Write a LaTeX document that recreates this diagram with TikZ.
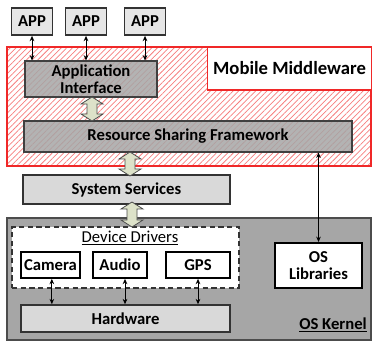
\documentclass[tikz,border=0pt]{standalone}
\usepackage{fontspec}
\setmainfont{Carlito}
\usepackage{tikz}
\usetikzlibrary{arrows.meta, positioning, calc, patterns.meta}

\definecolor{boxgray}{HTML}{A6A6A6}
\definecolor{lightbox}{HTML}{D9D9D9}
\definecolor{appgray}{HTML}{E6E6E6}
\definecolor{arrfill}{HTML}{DDE2C9}
\definecolor{mwred}{HTML}{F02828}

\begin{document}
\begin{tikzpicture}[
  x=0.75pt, y=-0.75pt,
  every node/.style={font=\bfseries\fontsize{12.5}{13}\selectfont, inner sep=0pt, align=center},
  box/.style={rectangle, draw=black!80, line width=0.8pt},
  appbox/.style={box, fill=appgray, line width=1.3pt, minimum width=30.75pt, minimum height=20.25pt},
  graybox/.style={box, fill=boxgray, fill opacity=0.85, text opacity=1, draw=black!75, line width=0.8pt},
  lightbox/.style={box, fill=lightbox, line width=1.2pt},
  whitebox/.style={box, fill=white, draw=black, line width=1.3pt},
  hatch/.style={pattern={Lines[angle=45, distance=3pt, line width=0.55pt]}, pattern color=mwred!60},
  bigarr/.style={fill=arrfill, draw=black!70, line width=0.6pt, line join=miter},
  arr/.style={{Stealth[length=4pt,width=3.5pt]}-{Stealth[length=4pt,width=3.5pt]}, line width=0.7pt},
]
  \useasboundingbox (0,0) rectangle (373,341);

  % middleware layer
  \node[hatch, draw=mwred, line width=1.2pt, minimum width=273pt, minimum height=89.25pt] (mw) at (189,106.5) {};
  \node[fill=white, draw=mwred, line width=1.2pt, minimum width=123pt, minimum height=32.25pt,
        font=\bfseries\fontsize{14}{15}\selectfont] (mwlabel) at (289.5,68.5) {Mobile Middleware};

  % apps
  \node[appbox] (app1) at (32,21.5)  {APP};
  \node[appbox] (app2) at (86,21.5)  {APP};
  \node[appbox] (app3) at (145,21.5) {APP};

  \node[graybox, minimum width=99pt, minimum height=27pt] (ai) at (91,79) {Application\\Interface};
  \node[graybox, minimum width=246pt, minimum height=23.25pt] (rsf) at (188,136.5) {Resource Sharing Framework};

  % system services
  \node[lightbox, minimum width=155.25pt, minimum height=21.75pt] (ss) at (126.5,189.5) {System Services};

  % kernel
  \node[box, fill=boxgray, draw=black!70, minimum width=273pt, minimum height=91.5pt] (kernel) at (189,279) {};
  \node[fill=white, draw=black!80, dashed, dash pattern=on 4pt off 2.5pt, line width=1.2pt,
        minimum width=170.25pt, minimum height=45.75pt] (dd) at (125.5,257.5) {};
  \node[font=\fontsize{12.5}{13}\selectfont] (ddlabel) at (130,238) {\underline{Device Drivers}};
  \node[whitebox, minimum width=44.25pt, minimum height=19.5pt] (camera) at (50.5,265) {Camera};
  \node[whitebox, minimum width=40.5pt, minimum height=19.5pt] (audio) at (120,265) {Audio};
  \node[whitebox, minimum width=48pt, minimum height=19.5pt] (gps) at (198,265) {GPS};
  \node[lightbox, minimum width=156.75pt, minimum height=20.25pt] (hw) at (125.5,318.5) {Hardware};
  \node[whitebox, line width=1.6pt, minimum width=65.25pt, minimum height=33.75pt] (oslib) at (318.5,265.5) {OS\\Libraries};
  \node (oslabel) at (333,325) {\underline{OS Kernel}};

  % Arrows
  \foreach \a in {app1,app2,app3}
    \draw[arr] (\a.south) -- (\a.south |- ai.north);
  \draw[arr] ([xshift=1pt]camera.south) -- ([xshift=1pt]camera.south |- hw.north);
  \draw[arr] ([xshift=3.75pt]audio.south) -- ([xshift=3.75pt]audio.south |- hw.north);
  \draw[arr] (gps.south) -- (gps.south |- hw.north);
  \draw[arr] (oslib.north) -- (oslib.north |- rsf.south);

  % wide arrows
  \coordinate (ai2rsf) at (92,109);
  \coordinate (rsf2ss) at (130,164);
  \coordinate (ss2k)   at (132,214.5);
  \foreach \c/\hl in {ai2rsf/12, rsf2ss/12, ss2k/12.5}
    \draw[bigarr] (\c) ++(0,-\hl) -- ++(11,7) -- ++(-6,0) -- ++(0,{2*\hl-14}) -- ++(6,0)
      -- ++(-11,7) -- ++(-11,-7) -- ++(6,0) -- ++(0,{14-2*\hl}) -- ++(-6,0) -- cycle;
\end{tikzpicture}
\end{document}
